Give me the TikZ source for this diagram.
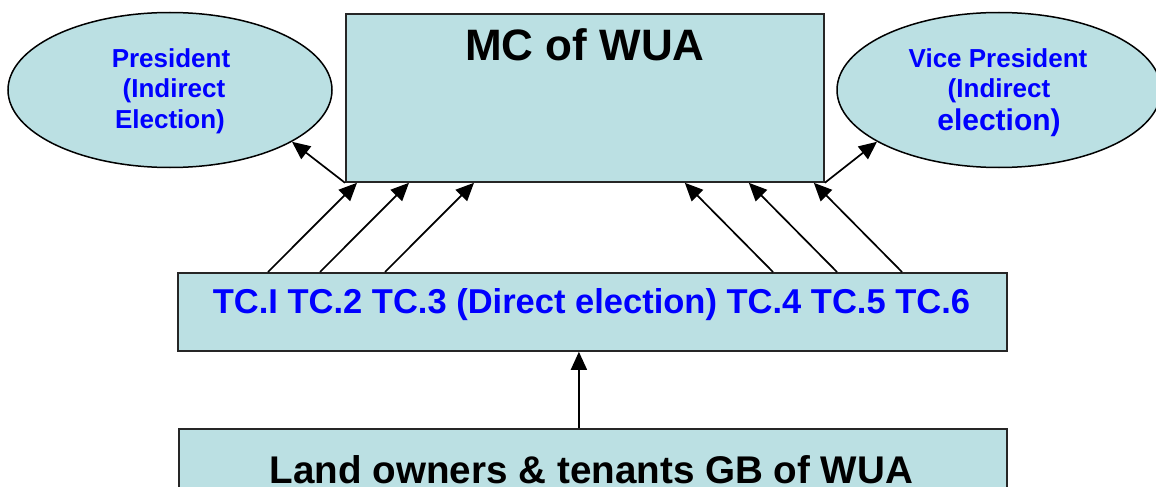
\documentclass[tikz,border=0pt]{standalone}
\usepackage{fontspec}
\setmainfont{Liberation Sans}
\usetikzlibrary{arrows.meta,shapes.geometric}
\definecolor{boxfill}{HTML}{BBE0E3}
\definecolor{txtblue}{HTML}{0000FF}
\begin{document}
\begin{tikzpicture}[x=1pt,y=-1pt,
  box/.style={draw=black!85, line width=1.8pt, fill=boxfill, inner sep=0pt, anchor=north west},
  oval/.style={ellipse, draw=black, line width=1.5pt, fill=boxfill, inner sep=0pt},
  arr/.style={-{Triangle[length=18pt,width=16pt]}, line width=1.7pt},
  lbl/.style={text=txtblue, anchor=base, inner sep=0pt},
  small/.style={font=\bfseries\fontsize{26}{31}\selectfont},
  ]
\useasboundingbox (0,0) rectangle (1156,487);
\clip (0,0) rectangle (1156,487);
% shapes
\node[box, minimum width=478pt, minimum height=168pt] (mc) at (345,13) {};
\node[oval, minimum width=324pt, minimum height=155pt] (pres) at (170,90) {};
\node[oval, minimum width=324pt, minimum height=155pt] (vice) at (999,90) {};
\node[box, minimum width=829pt, minimum height=78pt] (tc) at (177,272) {};
\node[box, minimum width=828pt, minimum height=110pt] (gb) at (178,428) {};
% texts
\node[lbl, text=black, font=\bfseries\fontsize{44}{52}\selectfont] (mct) at (585,60) {MC of WUA};
\node[lbl, small] (pres1) at (171,67) {President};
\node[lbl, small] (pres2) at (174,97) {(Indirect};
\node[lbl, small] (pres3) at (170,128) {Election)};
\node[lbl, small] (vice1) at (998,67) {Vice President};
\node[lbl, small] (vice2) at (999,97) {(Indirect};
\node[lbl, font=\bfseries\fontsize{30}{36}\selectfont] (vice3) at (999,130) {election)};
\node[lbl, font=\bfseries\fontsize{34.5}{41}\selectfont] (tct) at (591.5,313) {TC.I TC.2 TC.3 (Direct election) TC.4 TC.5 TC.6};
\node[lbl, text=black, font=\bfseries\fontsize{38.6}{46}\selectfont] (gbt) at (591.5,483) {Land owners \& tenants GB of WUA};
% connectors
\draw[arr] (mc.south west) -- (pres.-23);
\draw[arr] (mc.south east) -- (vice.-157);
\draw[arr] ([xshift=91pt]tc.north west) -- ([xshift=12pt]mc.south west);
\draw[arr] ([xshift=143pt]tc.north west) -- ([xshift=64pt]mc.south west);
\draw[arr] ([xshift=208pt]tc.north west) -- ([xshift=129pt]mc.south west);
\draw[arr] ([xshift=596pt]tc.north west) -- ([xshift=-140pt]mc.south east);
\draw[arr] ([xshift=660pt]tc.north west) -- ([xshift=-76pt]mc.south east);
\draw[arr] ([xshift=725pt]tc.north west) -- ([xshift=-11pt]mc.south east);
\draw[arr] ([xshift=-14pt]gb.north) -- ([xshift=-13.5pt]tc.south);
\end{tikzpicture}
\end{document}
